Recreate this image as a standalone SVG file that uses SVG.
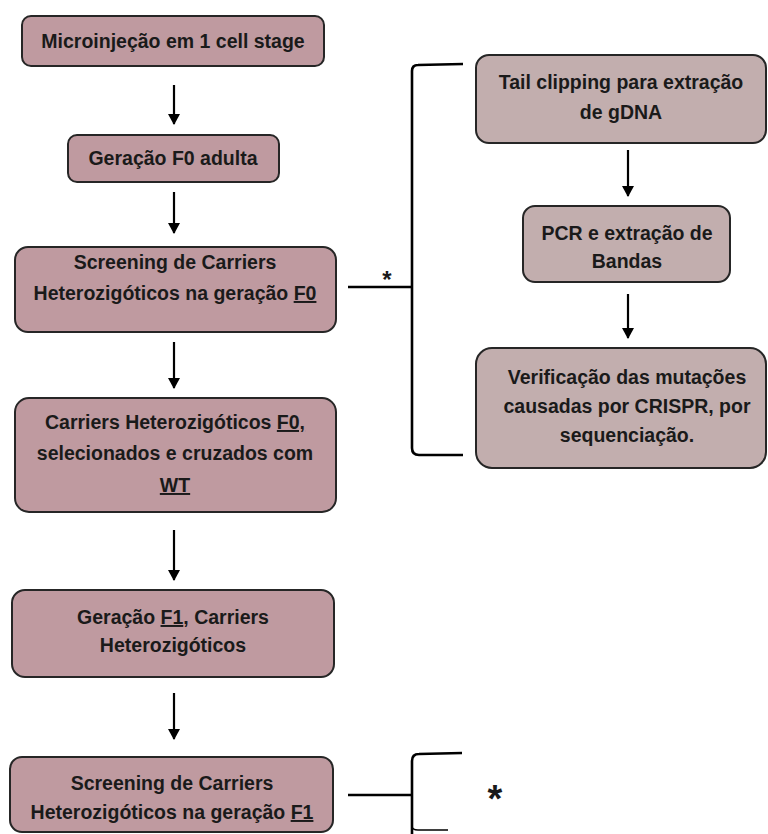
<svg xmlns="http://www.w3.org/2000/svg" width="768" height="834" viewBox="0 0 768 834">
<style>
.bl{fill:#BF9AA0;stroke:#262626;stroke-width:2}
.br{fill:#C2AEAE;stroke:#262626;stroke-width:2}
text{font-family:"Liberation Sans",Arial,sans-serif;font-weight:bold;font-size:19.5px;fill:#1a1a1a;text-anchor:middle}
.c{fill:none;stroke:#000;stroke-width:2.2}
.k{fill:none;stroke:#000;stroke-width:2.6}
.u{text-decoration:underline}
</style>
<defs>
<marker id="ah" markerWidth="11" markerHeight="12" refX="10" refY="6" orient="auto" markerUnits="userSpaceOnUse" viewBox="0 0 11 12">
<path d="M0,0 L11,6 L0,12 z" fill="#000"/>
</marker>
</defs>
<rect width="768" height="834" fill="#fff"/>
<g id="n1"><rect class="bl" x="22" y="16" width="302" height="50" rx="9"/><text x="173" y="48">Microinjeção em 1 cell stage</text></g>
<g id="n2"><rect class="bl" x="68" y="135" width="211" height="47" rx="9"/><text x="173" y="165">Geração F0 adulta</text></g>
<g id="n3"><rect class="bl" x="15" y="247" width="321" height="85" rx="13"/><text x="175" y="269">Screening de Carriers</text><text x="175" y="300">Heterozigóticos na geração <tspan class="u">F0</tspan></text></g>
<g id="n4"><rect class="bl" x="15" y="398" width="321" height="114" rx="14"/><text x="175" y="429">Carriers Heterozigóticos <tspan class="u">F0,</tspan></text><text x="175" y="460">selecionados e cruzados com</text><text x="175" y="492" class="u">WT</text></g>
<g id="n5"><rect class="bl" x="12" y="590" width="322" height="87" rx="13"/><text x="173" y="624">Geração <tspan class="u">F1</tspan>, Carriers</text><text x="173" y="652">Heterozigóticos</text></g>
<g id="n6"><rect class="bl" x="10" y="757" width="323" height="75" rx="12"/><text x="172" y="790">Screening de Carriers</text><text x="172" y="819">Heterozigóticos na geração <tspan class="u">F1</tspan></text></g>
<g id="r1"><rect class="br" x="476" y="55" width="290" height="88" rx="13"/><text x="621" y="89">Tail clipping para extração</text><text x="621" y="119">de gDNA</text></g>
<g id="r2"><rect class="br" x="523" y="206" width="207" height="76" rx="12"/><text x="627" y="240">PCR e extração de</text><text x="627" y="268">Bandas</text></g>
<g id="r3"><rect class="br" x="476" y="348" width="290" height="120" rx="16"/><text x="627" y="384">Verificação das mutações</text><text x="627" y="413">causadas por CRISPR, por</text><text x="627" y="442">sequenciação.</text></g>
<g id="connectors">
<line class="c" x1="174" y1="85" x2="174" y2="124" marker-end="url(#ah)"/>
<line class="c" x1="174" y1="192" x2="174" y2="233" marker-end="url(#ah)"/>
<line class="c" x1="174" y1="342" x2="174" y2="388" marker-end="url(#ah)"/>
<line class="c" x1="174" y1="530" x2="174" y2="580" marker-end="url(#ah)"/>
<line class="c" x1="174" y1="693" x2="174" y2="739" marker-end="url(#ah)"/>
<line class="c" x1="628" y1="150" x2="628" y2="196" marker-end="url(#ah)"/>
<line class="c" x1="628" y1="294" x2="628" y2="338" marker-end="url(#ah)"/>
<line class="k" x1="348" y1="287" x2="412" y2="287"/>
<path class="k" d="M463,64 L418,65 Q412,65 412,71 L412,448 Q412,455 419,455 L463,455"/>
<text x="387" y="288" style="font-size:24px">*</text>
<line class="k" x1="348" y1="795" x2="412" y2="795"/>
<path class="k" d="M462,753 L419,754 Q412,754 412,761 L412,834"/>
<path class="c" d="M412,826 Q412,830 418,830 L448,830" style="stroke-width:1.5"/>
<text x="495" y="812" style="font-size:38px">*</text>
</g>
</svg>
